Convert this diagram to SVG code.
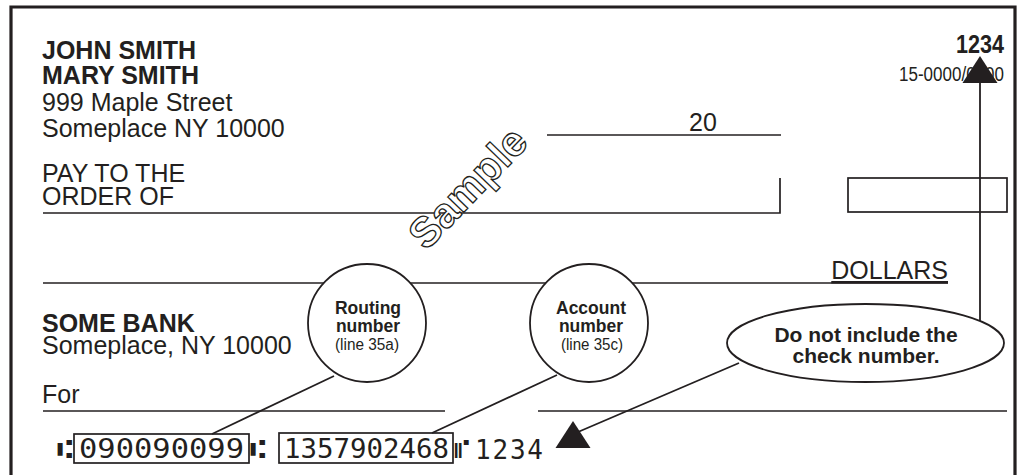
<svg xmlns="http://www.w3.org/2000/svg" xmlns:xlink="http://www.w3.org/1999/xlink" width="1021" height="475" viewBox="0 0 1021 475">
<style>
text{font-family:"Liberation Sans",Arial,Helvetica,sans-serif;fill:#231f20}
.b{font-weight:bold}
.big{font-size:25px}
.ln{stroke:#231f20;stroke-width:1.7;fill:none}
.cir{fill:#fff;stroke:#231f20;stroke-width:1.8}
.ctr{text-anchor:middle}
.micr{font-family:"DejaVu Sans Mono","Liberation Mono",monospace;font-size:26px}
.con{stroke:#231f20;stroke-width:1.8;fill:none}
.tri{fill:#231f20}
</style>
<defs>
<path id="tri" d="M0,0 L17.5,27 L-17.5,27 Z"/>
</defs>
<rect width="1021" height="475" fill="#fff"/>
<g id="check-frame">
<path d="M11,475 V7 H1015 V475" fill="none" stroke="#231f20" stroke-width="3.2"/>
</g>
<g id="check-lines">
<line class="ln" x1="547" y1="135" x2="781" y2="135"/>
<path class="ln" d="M43,213 H780 V178"/>
<rect class="ln" x="848" y="178" width="159" height="34"/>
<line class="ln" x1="43" y1="283" x2="948" y2="283"/>
<line class="ln" x1="43" y1="411" x2="445" y2="411"/>
<line class="ln" x1="538" y1="411" x2="1007" y2="411"/>
</g>
<g id="payer">
<text class="b big" x="42" y="59">JOHN SMITH</text>
<text class="b big" x="42" y="84">MARY SMITH</text>
<text class="big" x="42" y="111">999 Maple Street</text>
<text class="big" x="42" y="137">Someplace NY 10000</text>
</g>
<g id="check-number">
<text class="b" x="1004" y="53" font-size="25" text-anchor="end" textLength="48" lengthAdjust="spacingAndGlyphs">1234</text>
<text x="1004" y="81" font-size="19.5" text-anchor="end" textLength="105" lengthAdjust="spacingAndGlyphs">15-0000/0000</text>
</g>
<g id="date">
<text class="big" x="689" y="131">20</text>
</g>
<g id="payee">
<text class="big" x="42" y="182">PAY TO THE</text>
<text class="big" x="42" y="205">ORDER OF</text>
</g>
<g id="watermark">
<text class="b" x="0" y="0" font-size="42" text-anchor="middle" transform="translate(468,188) rotate(-46) translate(0,14)" style="fill:#fff;stroke:#231f20;stroke-width:1.3">Sample</text>
</g>
<g id="dollars">
<text class="big" x="948" y="279" text-anchor="end" text-decoration="underline">DOLLARS</text>
</g>
<g id="bank">
<text class="b big" x="42" y="332">SOME BANK</text>
<text class="big" x="42" y="354">Someplace, NY 10000</text>
<text class="big" x="42" y="403">For</text>
</g>
<g id="micr-line">
<text class="micr" x="57" y="458">⑆</text>
<rect class="ln" x="74" y="434" width="175" height="29"/>
<text class="micr" x="79" y="458" textLength="165" lengthAdjust="spacingAndGlyphs">090090099</text>
<text class="micr" x="250" y="458">⑆</text>
<rect class="ln" x="279" y="433" width="174" height="30"/>
<text class="micr" x="284" y="458" textLength="165" lengthAdjust="spacingAndGlyphs">1357902468</text>
<text class="micr" x="454" y="458">⑈</text>
<text class="micr" x="475" y="459" textLength="68" lengthAdjust="spacing">1234</text>
</g>
<g id="connectors">
<line class="con" x1="334" y1="376" x2="212" y2="434"/>
<line class="con" x1="557" y1="375" x2="432" y2="433"/>
<line class="con" x1="739" y1="363" x2="578" y2="432"/>
<use class="tri" xlink:href="#tri" x="573" y="421"/>
<line class="con" x1="980" y1="321" x2="980" y2="75"/>
<use class="tri" xlink:href="#tri" x="980" y="56"/>
</g>
<g id="routing-callout">
<circle class="cir" cx="367" cy="323" r="59"/>
<text class="b ctr" x="368" y="314" font-size="17.5">Routing</text>
<text class="b ctr" x="368" y="332" font-size="17.5">number</text>
<text class="ctr" x="367" y="350" font-size="16" textLength="64" lengthAdjust="spacingAndGlyphs">(line 35a)</text>
</g>
<g id="account-callout">
<circle class="cir" cx="589" cy="323" r="59"/>
<text class="b ctr" x="591" y="314" font-size="17.5">Account</text>
<text class="b ctr" x="591" y="332" font-size="17.5">number</text>
<text class="ctr" x="592" y="350" font-size="16" textLength="62" lengthAdjust="spacingAndGlyphs">(line 35c)</text>
</g>
<g id="check-number-callout">
<ellipse class="cir" cx="865.5" cy="343" rx="138.5" ry="39"/>
<text class="b ctr" x="866" y="342" font-size="21">Do not include the</text>
<text class="b ctr" x="866" y="363" font-size="21">check number.</text>
</g>
</svg>
